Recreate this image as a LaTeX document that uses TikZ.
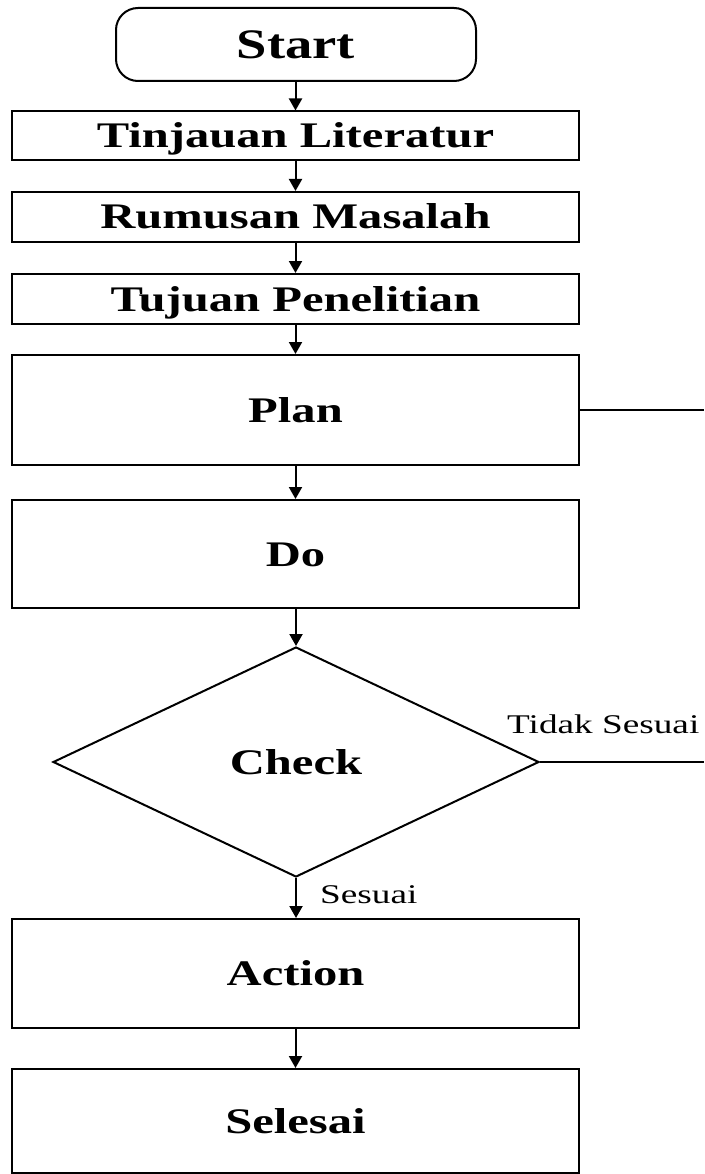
\documentclass[tikz,border=0pt]{standalone}
\usepackage{fontspec}
\setmainfont{Liberation Serif}
\newfontfamily\boldwide{Liberation Serif Bold}[FakeStretch=1.35]
\newfontfamily\startwide{Liberation Serif Bold}[FakeStretch=1.3]
\newfontfamily\labelwide{Liberation Serif}[FakeStretch=1.38]
\usetikzlibrary{shapes.geometric,arrows.meta}
\begin{document}
\begin{tikzpicture}[x=1pt,y=-1pt,
  box/.style={draw, line width=2pt, minimum width=567pt, inner sep=0pt,
    font=\boldwide\fontsize{36pt}{40pt}\selectfont, text height=24pt, text depth=0pt},
  startbox/.style={draw, line width=2pt, rounded corners=22pt, minimum width=360pt,
    minimum height=73pt, inner sep=0pt,
    font=\startwide\fontsize{42pt}{46pt}\selectfont, text height=28pt, text depth=0pt},
  decision/.style={draw, diamond, line width=2pt, minimum width=486pt, minimum height=230pt,
    inner sep=0pt, shape aspect=2.11,
    font=\boldwide\fontsize{36pt}{40pt}\selectfont, text height=24pt, text depth=0pt},
  lbl/.style={inner sep=0pt, font=\labelwide\fontsize{27pt}{30pt}\selectfont},
  arr/.style={line width=2pt, -{Triangle[width=13pt,length=12pt]}},
  ln/.style={line width=2pt}]
\useasboundingbox (0,0) rectangle (704,1174);
\node[startbox] (start) at (296,44.5) {Start};
\node[box, minimum height=49pt] (lit) at (295.5,136) {Tinjauan Literatur};
\node[box, minimum height=50pt] (rum) at (295.5,217) {Rumusan Masalah};
\node[box, minimum height=50pt] (tuj) at (295.5,299) {Tujuan Penelitian};
\node[box, minimum height=110pt] (plan) at (295.5,410) {Plan};
\node[box, minimum height=108pt] (do) at (295.5,554) {Do};
\node[decision] (check) at (296,762) {Check};
\node[box, minimum height=109pt] (action) at (295.5,973.5) {Action};
\node[box, minimum height=104pt] (selesai) at (295.5,1121) {Selesai};
\coordinate (planout) at (704,410);
\coordinate (checkout) at (704,762);
\node[lbl, anchor=base west] (tslbl) at (507,733) {Tidak Sesuai};
\node[lbl, anchor=base west] (slbl) at (320,903) {Sesuai};
\draw[arr] (start.south -| lit.north) -- (lit.north);
\draw[arr] (lit) -- (rum);
\draw[arr] (rum) -- (tuj);
\draw[arr] (tuj) -- (plan);
\draw[arr] (plan) -- (do);
\draw[arr] (check.north |- do.south) -- (check.north);
\draw[arr] (check.south) -- (check.south |- action.north);
\draw[arr] (action) -- (selesai);
\draw[ln] (plan.east) -- (planout);
\draw[ln] (check.east) -- (checkout);
\end{tikzpicture}
\end{document}
